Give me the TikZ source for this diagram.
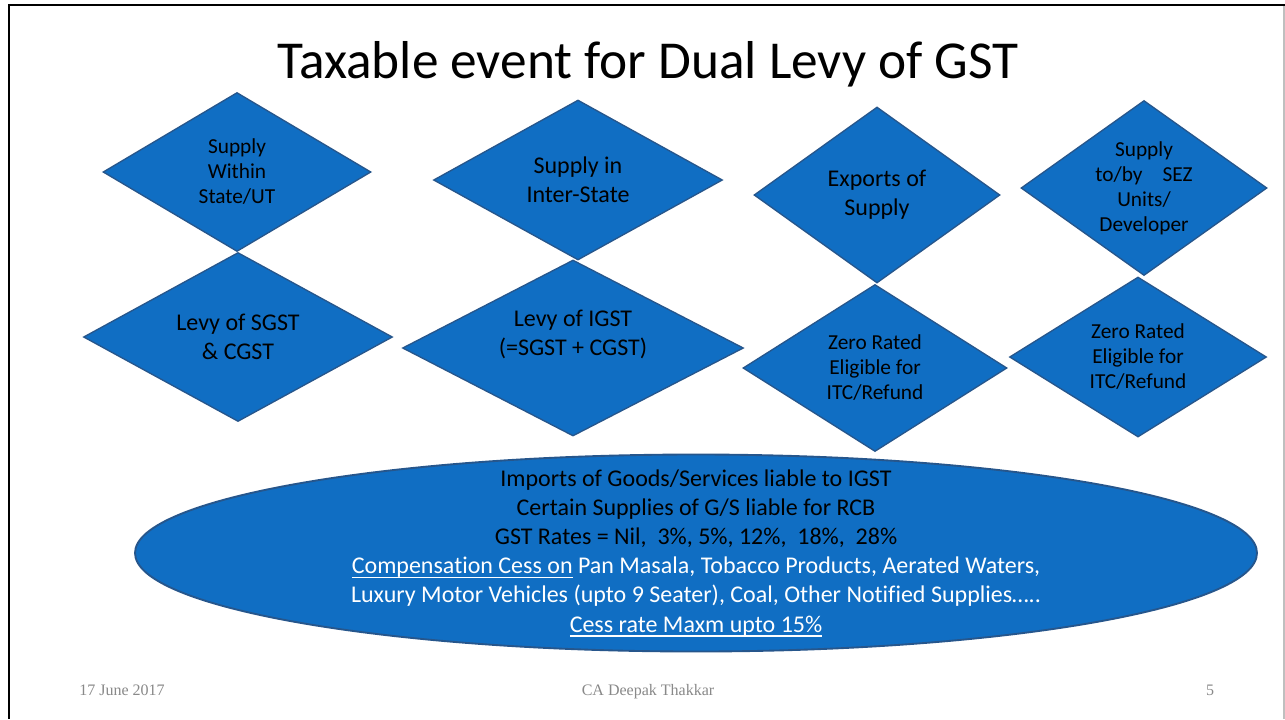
\documentclass[tikz,border=0pt]{standalone}
\usepackage{fontspec}
\setmainfont{Carlito}[Ligatures=NoCommon]
\newfontfamily\footfont{Liberation Serif}
\usetikzlibrary{shapes.geometric}
\definecolor{dfill}{RGB}{16,110,195}
\definecolor{dline}{RGB}{38,86,140}
\definecolor{footgray}{RGB}{137,137,137}
\newcommand\myul[1]{\setbox0\hbox{#1}\rlap{\rule[-3.4pt]{\wd0}{1.1pt}}\box0\relax}
\begin{document}
\begin{tikzpicture}[x=0.75pt,y=-0.75pt,
  dia/.style={diamond, draw=dline, line width=1pt, fill=dfill, inner sep=0pt},
  txtA/.style={font=\fontsize{18}{21.75}\selectfont, align=center, text=black, inner sep=0pt},
  txtB/.style={font=\fontsize{16}{18.75}\selectfont, align=center, text=black, inner sep=0pt},
  ell/.style={ellipse, draw=dline, line width=1.4pt, fill=dfill, inner sep=0pt},
  foot/.style={font=\footfont\fontsize{12}{14}\selectfont, text=footgray, anchor=base, inner sep=0pt}]
\useasboundingbox (0,0) rectangle (1285,719);
\fill[white] (0,0) rectangle (1285,719);
% frame
\draw[black, line width=1.9pt] (8,5) -- (1285,5);
\draw[black, line width=1.9pt] (9,5) -- (9,719);
\draw[black!25, line width=0.8pt] (1284,6) -- (1284,719);
% title
\node[font=\fontsize{40}{48}\selectfont, anchor=base, inner sep=0pt] (title) at (648,78) {Taxable event for Dual Levy of GST};
% diamonds
\node[dia, minimum width=201pt, minimum height=119.25pt] (d1) at (237,172) {};
\node[dia, minimum width=231.75pt, minimum height=126.75pt] (d2) at (238,337) {};
\node[dia, minimum width=216.75pt, minimum height=120pt] (d3) at (578,180) {};
\node[dia, minimum width=255.75pt, minimum height=132pt] (d4) at (573,348) {};
\node[dia, minimum width=184.5pt, minimum height=132pt] (d5) at (877,195) {};
\node[dia, minimum width=184.5pt, minimum height=131.25pt] (d6) at (1144,188) {};
\node[dia, minimum width=198pt, minimum height=125.25pt] (d7) at (875,368) {};
\node[dia, minimum width=192.75pt, minimum height=120pt] (d8) at (1138,357) {};
% diamond texts
\node[txtB] (t1) at (d1) {Supply\\Within\\State/UT};
\node[txtA] (t2) at (d2) {Levy of SGST\\\& CGST};
\node[txtA] (t3) at (d3) {Supply in\\Inter-State};
\node[txtA] (t4) at (573,334) {Levy of IGST\\(=SGST + CGST)};
\node[txtA] (t5) at (d5) {Exports of\\Supply};
\node[txtB] (t6) at (d6) {Supply\\to/by\hspace{15pt}SEZ\\Units/\\Developer};
\node[txtB] (t7) at (d7) {Zero Rated\\Eligible for\\ITC/Refund};
\node[txtB] (t8) at (d8) {Zero Rated\\Eligible for\\ITC/Refund};
% ellipse
\node[ell, minimum width=841.5pt, minimum height=147.75pt] (e) at (696,553) {};
\node[font=\fontsize{18}{21.9}\selectfont, align=center, inner sep=0pt] (et) at (e) {%
Imports of Goods/Services liable to IGST\\
Certain Supplies of G/S liable for RCB\\
GST Rates = Nil,\ \ 3\%, 5\%, 12\%,\ \ 18\%,\ \ 28\%\\
\textcolor{white}{\myul{Compensation Cess on} Pan Masala, Tobacco Products, Aerated Waters,}\\
\textcolor{white}{Luxury Motor Vehicles (upto 9 Seater), Coal, Other Notified Supplies…..}\\
\textcolor{white}{\myul{Cess rate Maxm upto 15\%}}};
% footer
\node[foot] (f1) at (122,695) {17 June 2017};
\node[foot] (f2) at (648,695) {CA Deepak Thakkar};
\node[foot] (f3) at (1210,695) {5};
\end{tikzpicture}
\end{document}
